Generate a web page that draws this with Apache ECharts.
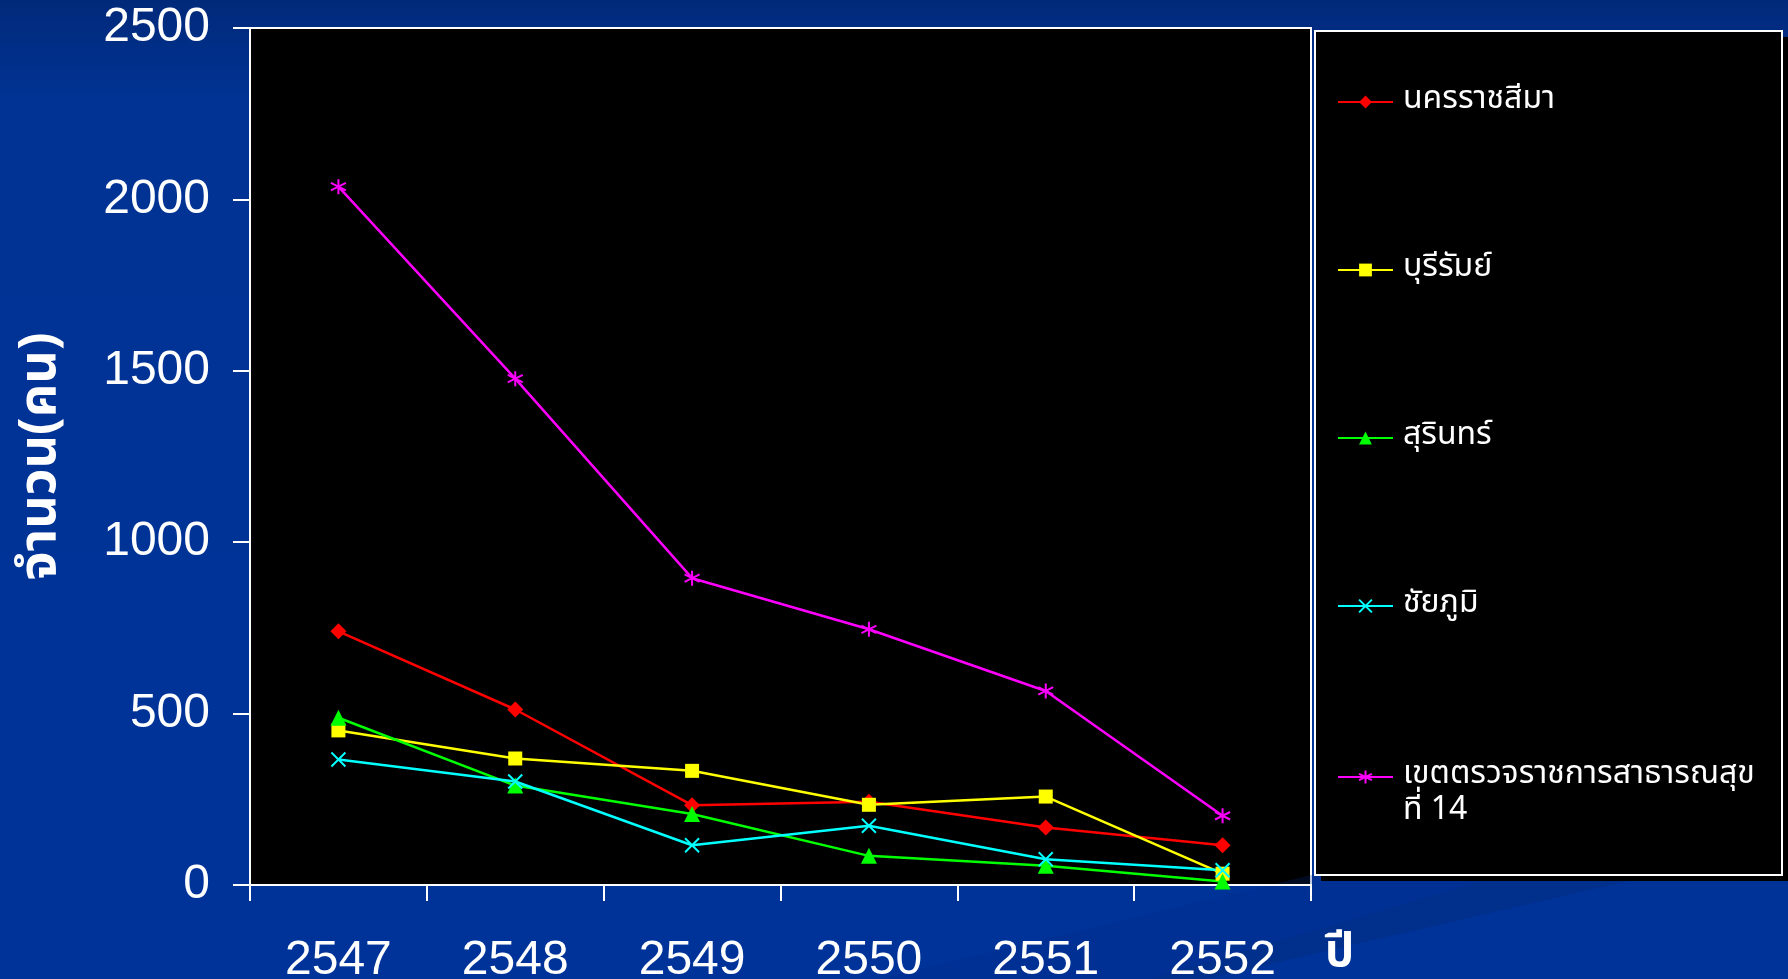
<!DOCTYPE html>
<html>
<head>
<meta charset="utf-8">
<script src="https://cdn.jsdelivr.net/npm/echarts@6/dist/echarts.min.js"></script>
<style>
  html, body { margin: 0; padding: 0; background: #003399; }
  #chart { width: 1788px; height: 979px; }
</style>
</head>
<body>
<div id="chart"></div>
<script>
// Years (Thai Buddhist calendar)
const years = ['2547', '2548', '2549', '2550', '2551', '2552'];

// Series names
const nameKorat = 'นครราชสีมา';
const nameBuriram = 'บุรีรัมย์';
const nameSurin = 'สุรินทร์';
const nameChaiyaphum = 'ชัยภูมิ';
const nameRegion = 'เขตตรวจราชการสาธารณสุข ที่ 14';

// Counts per year (persons)
const korat = [740, 512, 233, 243, 168, 116];
const buriram = [451, 369, 333, 234, 258, 33];
const surin = [488, 290, 207, 85, 56, 10];
const chaiyaphum = [366, 302, 116, 173, 75, 43];
const region14 = [2037, 1477, 895, 746, 566, 202];

// Value-axis ticks
const yMin = 0, yMax = 2500, yStep = 500;

const thaiFont = "'Noto Sans Thai', 'Noto Sans', 'DejaVu Sans', sans-serif";
const numFont = "'Liberation Sans', Arial, sans-serif";

const chart = echarts.init(document.getElementById('chart'), null, { renderer: 'canvas' });

const crossPath = 'path://M0,0L10,10M10,0L0,10';
const starPath = 'path://M5,0L5,10M0.7,2.5L9.3,7.5M0.7,7.5L9.3,2.5';

function lineSeries(name, data, color, symbol, size, stroke) {
  return {
    name: name,
    type: 'line',
    data: data,
    symbol: symbol,
    symbolSize: size,
    z: 3,
    lineStyle: { color: color, width: 2.5 },
    itemStyle: stroke
      ? { color: color, borderColor: color, borderWidth: 2 }
      : { color: color, borderWidth: 0 },
    emphasis: { disabled: true }
  };
}

function legendAt(name, top, formatter) {
  return {
    data: [name],
    orient: 'vertical',
    left: 1337,
    top: top,
    padding: 0,
    itemWidth: 55,
    itemHeight: 16,
    selectedMode: false,
    z: 5,
    textStyle: { color: '#ffffff', fontSize: 32, lineHeight: 36, fontFamily: thaiFont, padding: [0, 0, 0, 5] },
    formatter: formatter || '{name}'
  };
}

// two-line entry: a blank lead line keeps the first text line level with the icon
function wrapRegion(n) {
  return ' \n' + n.replace(' ที่', '\nที่');
}

const option = {
  animation: false,
  backgroundColor: {
    type: 'linear', x: 0, y: 0, x2: 0, y2: 1,
    colorStops: [
      { offset: 0, color: '#01297a' },
      { offset: 0.1, color: '#003393' },
      { offset: 1, color: '#003399' }
    ]
  },
  graphic: [
    // diagonal bands in the lower-right corner of the slide
    { type: 'polygon', z: 0, silent: true,
      shape: { points: [[880, 979], [1788, 760], [1788, 790], [1150, 979]] },
      style: { fill: 'rgba(0,40,130,0.25)' } },
    { type: 'polygon', z: 0, silent: true,
      shape: { points: [[1150, 979], [1788, 791], [1788, 844], [1205, 979]] },
      style: { fill: '#002f8c' } },
    // legend panel: shadow, then framed black box
    { type: 'rect', z: 1, silent: true,
      shape: { x: 1321, y: 37, width: 467, height: 844 },
      style: { fill: '#000000' } },
    { type: 'rect', z: 1, silent: true,
      shape: { x: 1315, y: 31, width: 467, height: 844 },
      style: { fill: '#000000', stroke: '#ffffff', lineWidth: 2 } },
    // unit label of the category axis
    { type: 'text', z: 6, silent: true, left: 1325, top: 934,
      style: { text: 'ปี', fill: '#ffffff', fontSize: 46, fontWeight: 'bold', fontFamily: thaiFont } }
  ],
  grid: {
    left: 250, right: 477, top: 28, bottom: 94,
    containLabel: false, outerBoundsMode: 'none',
    show: true, backgroundColor: '#000000', borderColor: '#ffffff', borderWidth: 2
  },
  legend: [
    legendAt(nameKorat, 84),
    legendAt(nameBuriram, 252),
    legendAt(nameSurin, 420),
    legendAt(nameChaiyaphum, 588),
    legendAt(nameRegion, 723, wrapRegion)
  ],
  xAxis: {
    type: 'category',
    data: years,
    boundaryGap: true,
    axisLine: { lineStyle: { color: '#ffffff', width: 2 } },
    axisTick: { show: true, length: 16, lineStyle: { color: '#ffffff', width: 2 } },
    axisLabel: { color: '#ffffff', fontSize: 48, fontFamily: numFont, margin: 52 },
    splitLine: { show: false }
  },
  yAxis: {
    type: 'value',
    min: yMin, max: yMax, interval: yStep,
    axisLine: { show: true, lineStyle: { color: '#ffffff', width: 2 } },
    axisTick: { show: true, length: 17, lineStyle: { color: '#ffffff', width: 2 } },
    axisLabel: {
      color: '#ffffff', fontSize: 48, fontFamily: numFont, margin: 40,
      formatter: function (v) { return String(v); }
    },
    splitLine: { show: false },
    name: 'จำนวน(คน)',
    nameLocation: 'middle',
    nameRotate: 90,
    nameGap: 180,
    nameTextStyle: { color: '#ffffff', fontSize: 52, fontWeight: 'bold', fontFamily: thaiFont }
  },
  series: [
    lineSeries(nameKorat, korat, '#ff0000', 'diamond', 16, false),
    lineSeries(nameBuriram, buriram, '#ffff00', 'rect', 14, false),
    lineSeries(nameSurin, surin, '#00ff00', 'triangle', 16, false),
    lineSeries(nameChaiyaphum, chaiyaphum, '#00ffff', crossPath, 14, true),
    lineSeries(nameRegion, region14, '#ff00ff', starPath, 15, true)
  ]
};

chart.setOption(option);
</script>
</body>
</html>
